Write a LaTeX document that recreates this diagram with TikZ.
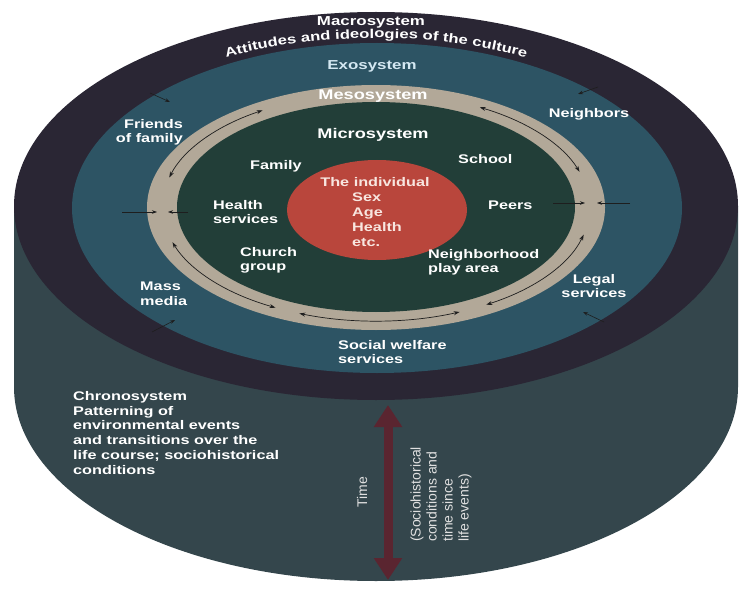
\documentclass[tikz,border=0pt]{standalone}
\usepackage{fontspec}
\newfontfamily\lab{Liberation Sans}[FakeStretch=1.3]
\newfontfamily\reg{Liberation Sans}
\usetikzlibrary{arrows.meta,decorations.text}
\definecolor{macroC}{HTML}{2A2634}
\definecolor{exoC}{HTML}{2D5464}
\definecolor{sideC}{HTML}{34464C}
\definecolor{mesoC}{HTML}{B2A898}
\definecolor{microC}{HTML}{223E38}
\definecolor{indC}{HTML}{B9463C}
\definecolor{timeC}{HTML}{5A2530}
\definecolor{exoT}{HTML}{D4E8F2}
\definecolor{indT}{HTML}{F8E6E0}
\definecolor{arrC}{HTML}{1E1E1E}
\begin{document}
\begin{tikzpicture}[x=1pt,y=-1pt,
  lbl/.style={text=white, font=\lab\bfseries\fontsize{12.5}{14.6}\selectfont, inner sep=0pt},
  ringarrow/.style={draw=arrC, line width=0.7pt, {Stealth[length=6pt,width=4pt]}-{Stealth[length=6pt,width=4pt]}},
  smallarrow/.style={draw=arrC, line width=0.6pt, -{Stealth[length=5pt,width=3.5pt]}},
  timearrow/.style={draw=timeC, line width=9pt, {Triangle[length=22pt,width=27pt]}-{Triangle[length=22pt,width=27pt]}},
  rottext/.style={text=white!88!black, font=\reg\fontsize{14}{16}\selectfont, inner sep=0pt, rotate=90}
]
\useasboundingbox (0,0) rectangle (739,599);
\fill[white] (0,0) rectangle (739,599);
% cylinder side
\fill[sideC] (14,206) -- (14,387) arc[start angle=180, end angle=0, x radius=362, y radius=194] -- (738,206) -- cycle;
% top disks
\fill[macroC] (376,206) ellipse[x radius=362, y radius=194];
\fill[exoC] (377,208) ellipse[x radius=305, y radius=165];
\fill[mesoC] (376,207.5) ellipse[x radius=229, y radius=122.5];
\fill[microC] (376,207) ellipse[x radius=199, y radius=105];
\fill[indC] (377,210) ellipse[x radius=90, y radius=50];

% curved macro text
\path[decorate, decoration={text along path, text color=white, text align=center,
  text={|\lab\bfseries\fontsize{12.8}{14}\selectfont|Attitudes and ideologies of the culture}}]
  (376,210) ++(234:325 and 172) arc[start angle=234, end angle=306, x radius=325, y radius=172];

\node[lbl, anchor=base] (macro) at (371,26) {\fontsize{13}{15}\selectfont Macrosystem};
\node[lbl, anchor=base, text=exoT] (exo) at (372,70) {\fontsize{13}{15}\selectfont Exosystem};
\node[lbl, anchor=base] (meso) at (373,100) {\fontsize{14}{16}\selectfont Mesosystem};
\node[lbl, anchor=base] (micro) at (373,139) {\fontsize{14}{16}\selectfont Microsystem};

\node[lbl, anchor=north east, align=right] (friends) at (183,119) {Friends\\of family};
\node[lbl, anchor=base] (neigh) at (589,118) {Neighbors};
\node[lbl, anchor=base west] (family) at (250,169) {Family};
\node[lbl, anchor=base west] (school) at (458,164) {School};
\node[lbl, anchor=north west, align=left] (health) at (213,200) {Health\\services};
\node[lbl, anchor=base west] (peers) at (488,209) {Peers};
\node[lbl, anchor=north west, align=left] (church) at (240,247) {Church\\group};
\node[lbl, anchor=north west, align=left] (nplay) at (428,249) {Neighborhood\\play area};
\node[lbl, anchor=north west, align=left] (mass) at (140,282) {Mass\\media};
\node[lbl, anchor=north, align=center] (legal) at (594,274) {Legal\\services};
\node[lbl, anchor=north west, align=left] (social) at (338,340) {Social welfare\\services};
\node[lbl, anchor=base, text=indT] (indiv) at (375,186) {The individual};
\node[lbl, anchor=north west, align=left, text=indT, font=\lab\bfseries\fontsize{12.5}{15}\selectfont] (traits) at (352,193) {Sex\\Age\\Health\\etc.};
\node[lbl, anchor=north west, align=left, font=\lab\bfseries\fontsize{12.5}{14.8}\selectfont] (chrono) at (73,391)
  {Chronosystem\\Patterning of\\environmental events\\and transitions over the\\life course; sociohistorical\\conditions};

% mesosystem ring arrows
\draw[ringarrow] (376,207) ++(195:214 and 114) arc[start angle=195, end angle=238, x radius=214, y radius=114];
\draw[ringarrow] (376,207) ++(299:214 and 114) arc[start angle=299, end angle=342, x radius=214, y radius=114];
\draw[ringarrow] (376,207) ++(14:214 and 114) arc[start angle=14, end angle=59, x radius=214, y radius=114];
\draw[ringarrow] (376,207) ++(67:214 and 114) arc[start angle=67, end angle=111, x radius=214, y radius=114];
\draw[ringarrow] (376,207) ++(118:214 and 114) arc[start angle=118, end angle=162, x radius=214, y radius=114];

% crossing arrows
\coordinate (l1) at (122,212); \coordinate (l2) at (157,212);
\coordinate (l3) at (188,212); \coordinate (l4) at (168,212);
\coordinate (r1) at (553,203); \coordinate (r2) at (585,203);
\coordinate (r3) at (630,203); \coordinate (r4) at (597,203);
\draw[smallarrow] (l1) -- (l2);
\draw[smallarrow] (l3) -- (l4);
\draw[smallarrow] (r1) -- (r2);
\draw[smallarrow] (r3) -- (r4);

% macro to exo arrows
\coordinate (m1s) at (150,93);  \coordinate (m1e) at (170,102);
\coordinate (m2s) at (598,87);  \coordinate (m2e) at (578,94);
\coordinate (m3s) at (152,332); \coordinate (m3e) at (175,320);
\coordinate (m4s) at (604,322); \coordinate (m4e) at (583,312);
\draw[smallarrow] (m1s) -- (m1e);
\draw[smallarrow] (m2s) -- (m2e);
\draw[smallarrow] (m3s) -- (m3e);
\draw[smallarrow] (m4s) -- (m4e);

% time arrow
\coordinate (ttop) at (388,405);
\coordinate (tbot) at (388,580);
\draw[timearrow] (ttop) -- (tbot);
\node[rottext] (time) at (362,492) {Time};
\node[rottext, anchor=west, align=left] (socio) at (441,542)
  {(Sociohistorical\\conditions and\\time since\\life events)};
\end{tikzpicture}
\end{document}
